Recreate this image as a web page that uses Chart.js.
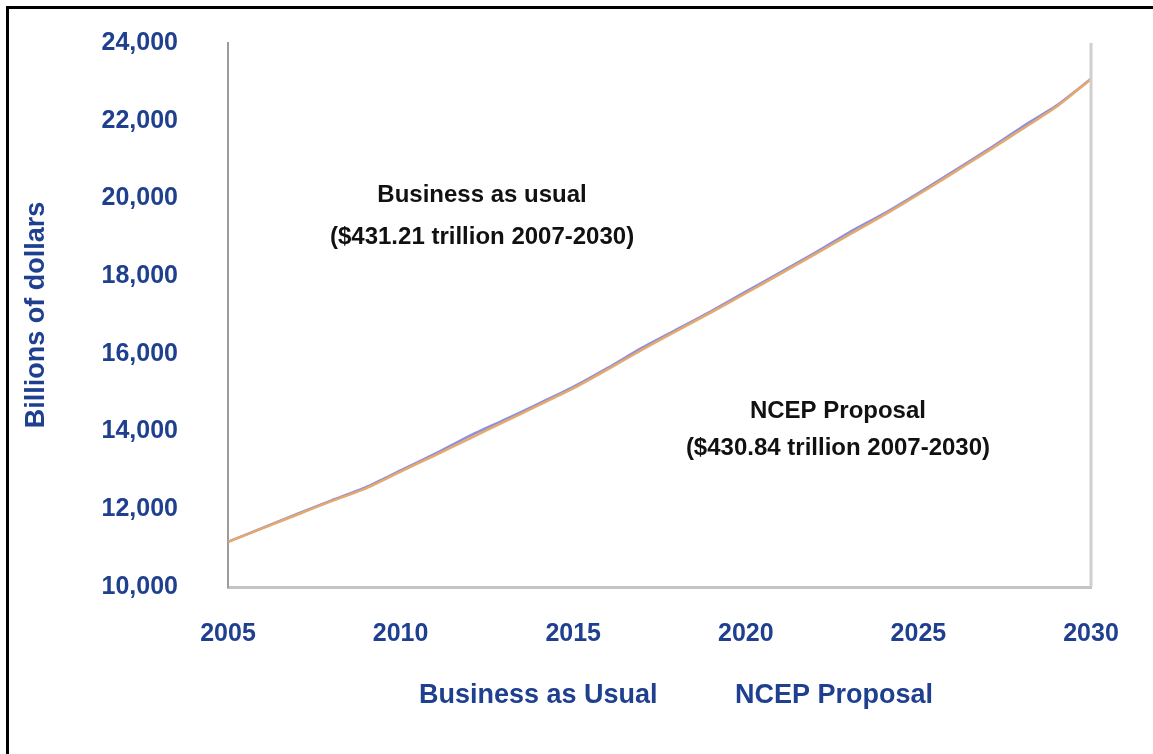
<!DOCTYPE html>
<html>
<head>
    <title>Business as Usual vs NCEP Proposal</title>
    <script src="https://cdn.jsdelivr.net/npm/chart.js"></script>
    <style>
        html, body { margin: 0; padding: 0; background: #fff; }
        .chart-box { width: 1153px; height: 754px; position: relative; }
    </style>
</head>
<body>
    <div class="chart-box">
        <canvas id="gdpChart"></canvas>
    </div>

    <script>
    // values, billions of dollars
    const years = [2005, 2006, 2007, 2008, 2009, 2010, 2011, 2012, 2013, 2014, 2015, 2016, 2017,
                   2018, 2019, 2020, 2021, 2022, 2023, 2024, 2025, 2026, 2027, 2028, 2029, 2030];
    const businessAsUsual = [11160, 11520, 11880, 12230, 12570, 13000, 13430, 13890, 14300, 14720, 15150, 15640, 16160,
                             16630, 17100, 17600, 18100, 18600, 19130, 19610, 20140, 20690, 21250, 21840, 22390, 23080];
    const ncepProposal = [11160, 11510, 11860, 12210, 12540, 12970, 13390, 13820, 14250, 14680, 15110, 15600, 16110,
                          16590, 17070, 17560, 18060, 18560, 19070, 19570, 20100, 20650, 21210, 21780, 22360, 23070];
    const seriesNames = ['Business as Usual', 'NCEP Proposal'];
    const yTicks = [10000, 12000, 14000, 16000, 18000, 20000, 22000, 24000];
    const xTicks = [2005, 2010, 2015, 2020, 2025, 2030];

    const notes = [
        { text: 'Business as usual', year: 2012.36, value: 20070 },
        { text: '($431.21 trillion 2007-2030)', year: 2012.36, value: 19010 },
        { text: 'NCEP Proposal', year: 2022.67, value: 14530 },
        { text: '($430.84 trillion 2007-2030)', year: 2022.67, value: 13570 }
    ];

    const navy = '#1f3f8f';
    const fontFamily = '"Liberation Sans", Arial, sans-serif';

    const decor = {
        id: 'decor',
        afterDraw(chart) {
            const { ctx, chartArea: a, scales: { x, y } } = chart;
            ctx.save();
            // right edge of plot area
            ctx.strokeStyle = '#cfcfcf';
            ctx.lineWidth = 3;
            ctx.beginPath();
            ctx.moveTo(a.right, a.top);
            ctx.lineTo(a.right, a.bottom);
            ctx.stroke();
            // picture frame, left and top only
            ctx.strokeStyle = '#000';
            ctx.lineWidth = 3;
            ctx.beginPath();
            ctx.moveTo(7.5, chart.height);
            ctx.lineTo(7.5, 7.5);
            ctx.lineTo(chart.width, 7.5);
            ctx.stroke();
            // text notes in the plot
            ctx.font = 'bold 24px ' + fontFamily;
            ctx.fillStyle = '#111';
            ctx.textAlign = 'center';
            ctx.textBaseline = 'middle';
            notes.forEach(n => {
                ctx.fillText(n.text, x.getPixelForValue(n.year), y.getPixelForValue(n.value));
            });
            // legend, text only
            ctx.font = 'bold 27px ' + fontFamily;
            ctx.fillStyle = navy;
            ctx.textAlign = 'left';
            ctx.fillText(seriesNames[0], 419, 696);
            ctx.fillText(seriesNames[1], 735, 696);
            ctx.restore();
        }
    };

    const ctx = document.getElementById('gdpChart').getContext('2d');
    new Chart(ctx, {
        type: 'line',
        data: {
            datasets: [
                {
                    label: seriesNames[0],
                    data: years.map((yr, i) => ({ x: yr, y: businessAsUsual[i] })),
                    borderColor: '#8d8fe0',
                    borderWidth: 2.5,
                    pointRadius: 0,
                    tension: 0.2,
                    order: 2
                },
                {
                    label: seriesNames[1],
                    data: years.map((yr, i) => ({ x: yr, y: ncepProposal[i] })),
                    borderColor: '#e6a96c',
                    borderWidth: 2.5,
                    pointRadius: 0,
                    tension: 0.2,
                    order: 1
                }
            ]
        },
        options: {
            responsive: true,
            maintainAspectRatio: false,
            animation: false,
            layout: { padding: { left: 0, top: 43, right: 62, bottom: 0 } },
            plugins: {
                legend: { display: false },
                tooltip: { enabled: false }
            },
            scales: {
                x: {
                    type: 'linear',
                    min: 2005,
                    max: 2030,
                    afterBuildTicks: scale => { scale.ticks = xTicks.map(v => ({ value: v })); },
                    afterFit: scale => { scale.height = 167; },
                    grid: { display: false },
                    border: { display: true, color: '#c4c4c4', width: 3 },
                    ticks: {
                        padding: 24,
                        color: navy,
                        font: { family: fontFamily, size: 25, weight: 'bold' },
                        callback: v => String(v)
                    }
                },
                y: {
                    min: 10000,
                    max: 24000,
                    afterBuildTicks: scale => { scale.ticks = yTicks.map(v => ({ value: v })); },
                    afterFit: scale => {
                        scale.width = 228;
                        scale.paddingTop = 0;
                        scale.paddingBottom = 0;
                    },
                    grid: { display: false },
                    border: { display: true, color: '#9c9c9c', width: 2 },
                    ticks: {
                        padding: 42,
                        color: navy,
                        font: { family: fontFamily, size: 25, weight: 'bold' },
                        callback: v => v.toLocaleString('en-US')
                    },
                    title: {
                        display: true,
                        text: 'Billions of dollars',
                        color: navy,
                        padding: { top: 20, bottom: 0 },
                        font: { family: fontFamily, size: 27, weight: 'bold' }
                    }
                }
            }
        },
        plugins: [decor]
    });
    </script>
</body>
</html>
